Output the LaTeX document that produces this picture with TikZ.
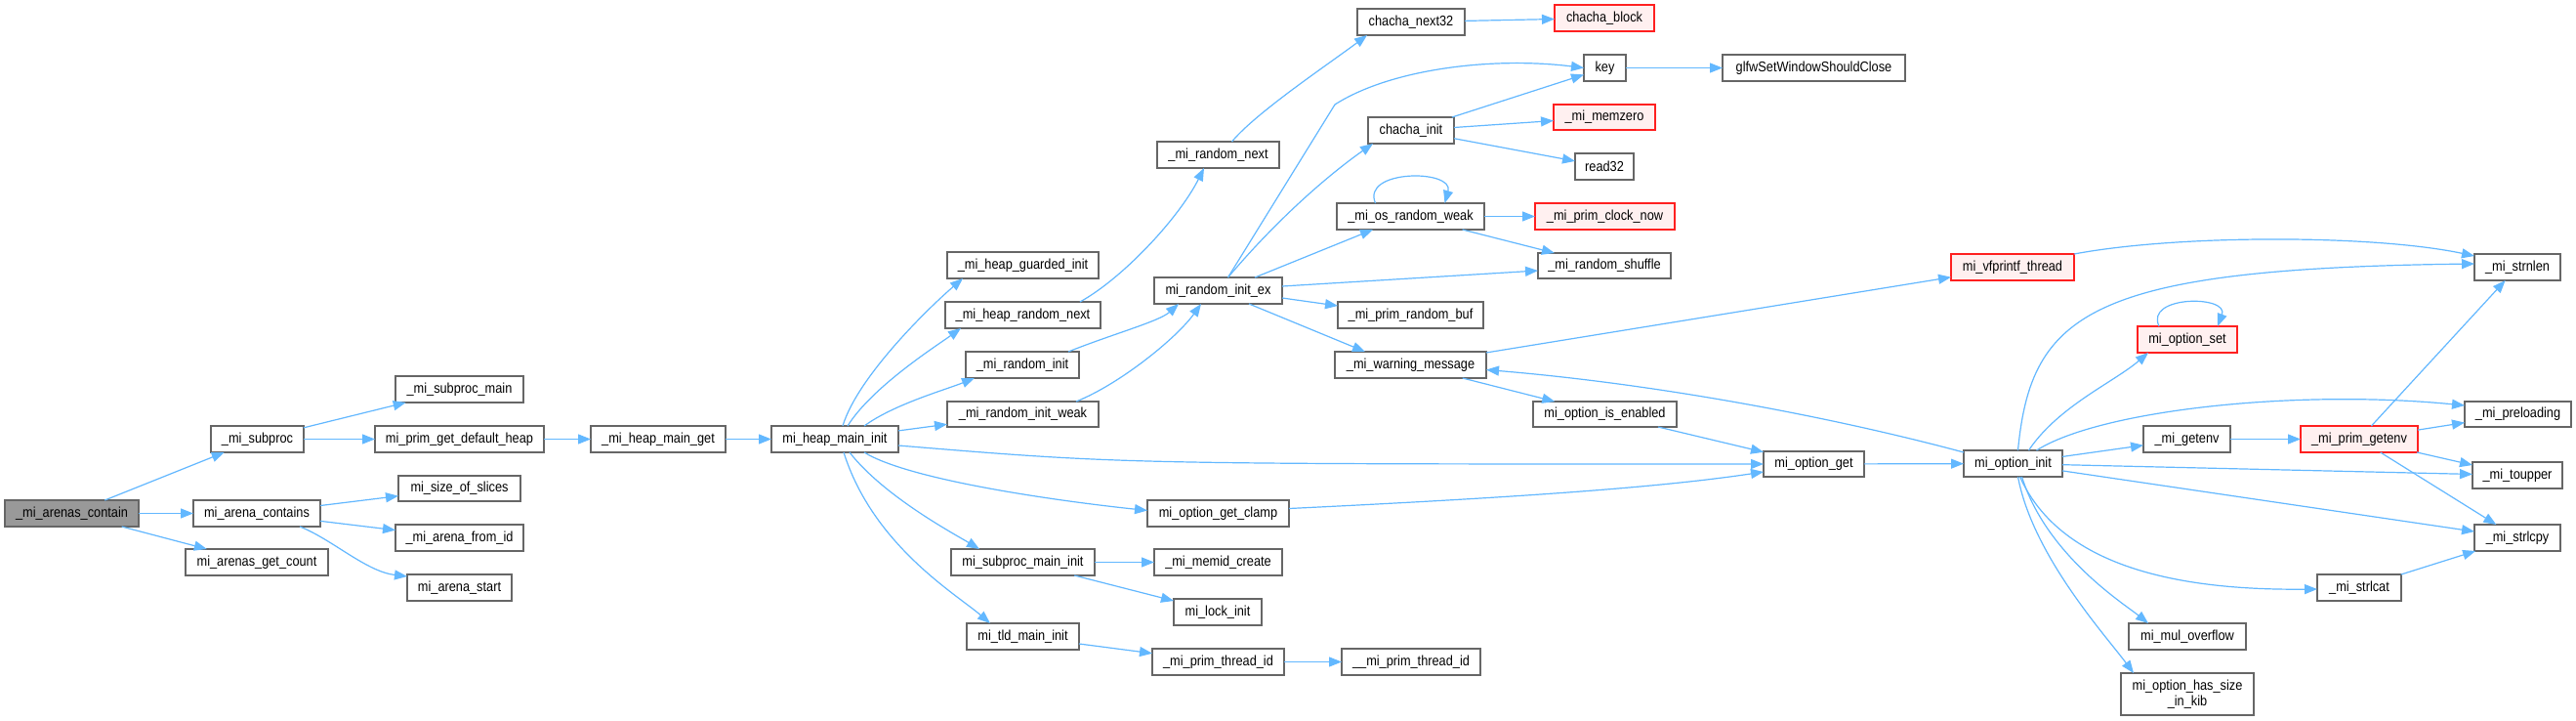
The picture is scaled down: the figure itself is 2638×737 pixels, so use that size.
\documentclass[tikz,border=0pt]{standalone}
\usepackage{fontspec}
\setmainfont{Liberation Sans}[FakeStretch=0.88]
\usetikzlibrary{arrows.meta}
\definecolor{edgec}{HTML}{63B8FF}
\definecolor{bordc}{HTML}{666666}
\definecolor{rootf}{HTML}{999999}
\definecolor{redf}{HTML}{FFF0F0}
\definecolor{redb}{HTML}{FF2020}
\tikzset{
 nbox/.style={draw=bordc, fill=white, line width=1.3pt, inner sep=0pt, outer sep=0pt, align=center, font=\fontsize{14.5}{16.5}\selectfont},
 rootbox/.style={fill=rootf},
 redbox/.style={draw=redb, fill=redf},
 conn/.style={draw=edgec, line width=1.2pt, -{Triangle[length=13pt,width=10pt]}},
}
\newcommand\nd[7][]{\node[nbox,#1,minimum width={(#5)-(#3)},minimum height={(#6)-(#4)}] (#2) at ({((#3)+(#5))/2},{((#4)+(#6))/2}) {#7};}
\begin{document}
\begin{tikzpicture}[x=1pt,y=-1pt]
\fill[white] (0,0) rectangle (2638,737);
\useasboundingbox (0,0) rectangle (2638,737);
\nd[rootbox]{contain}{5}{512}{142}{539}{\_mi\_arenas\_contain}
\nd{subproc}{216}{436}{311}{463}{\_mi\_subproc}
\nd{arenacontains}{198}{512}{328}{539}{mi\_arena\_contains}
\nd{getcount}{190}{562}{336}{589}{mi\_arenas\_get\_count}
\nd{subprocmain}{405}{385}{536}{412}{\_mi\_subproc\_main}
\nd{defaultheap}{384}{436}{557}{463}{mi\_prim\_get\_default\_heap}
\nd{sizeofslices}{408}{487}{533}{513}{mi\_size\_of\_slices}
\nd{arenafromid}{405}{537}{536}{564}{\_mi\_arena\_from\_id}
\nd{arenastart}{417}{588}{524}{615}{mi\_arena\_start}
\nd{heapmainget}{605}{436}{743}{463}{\_mi\_heap\_main\_get}
\nd{heapmaininit}{790}{436}{920}{463}{mi\_heap\_main\_init}
\nd{guardedinit}{970}{258}{1125}{285}{\_mi\_heap\_guarded\_init}
\nd{heaprandomnext}{968}{309}{1127}{336}{\_mi\_heap\_random\_next}
\nd{randominit}{989}{360}{1105}{387}{\_mi\_random\_init}
\nd{randominitweak}{970}{411}{1125}{437}{\_mi\_random\_init\_weak}
\nd{subprocmaininit}{974}{562}{1121}{589}{mi\_subproc\_main\_init}
\nd{tldmaininit}{990}{638}{1105}{665}{mi\_tld\_main\_init}
\nd{randomnext}{1185}{145}{1310}{172}{\_mi\_random\_next}
\nd{randominitex}{1182}{284}{1313}{311}{mi\_random\_init\_ex}
\nd{getclamp}{1175}{512}{1320}{539}{mi\_option\_get\_clamp}
\nd{memidcreate}{1182}{562}{1313}{589}{\_mi\_memid\_create}
\nd{lockinit}{1202}{613}{1292}{640}{mi\_lock\_init}
\nd{primthreadid}{1180}{664}{1315}{691}{\_mi\_prim\_thread\_id}
\nd{chachanext}{1390}{9}{1500}{36}{chacha\_next32}
\nd{chachainit}{1401}{120}{1489}{147}{chacha\_init}
\nd{osrandomweak}{1369}{208}{1520}{235}{\_mi\_os\_random\_weak}
\nd{primrandombuf}{1370}{309}{1519}{336}{\_mi\_prim\_random\_buf}
\nd{warning}{1367}{360}{1522}{387}{\_mi\_warning\_message}
\nd{primthreadidb}{1374}{664}{1516}{691}{\_\_mi\_prim\_thread\_id}
\nd[redbox]{chachablock}{1592}{5}{1694}{32}{chacha\_block}
\nd{key}{1622}{56}{1665}{83}{key}
\nd[redbox]{memzero}{1591}{107}{1695}{133}{\_mi\_memzero}
\nd{readtt}{1613}{157}{1673}{184}{read32}
\nd[redbox]{clocknow}{1572}{208}{1715}{235}{\_mi\_prim\_clock\_now}
\nd{randomshuffle}{1575}{259}{1711}{285}{\_mi\_random\_shuffle}
\nd{isenabled}{1570}{411}{1717}{437}{mi\_option\_is\_enabled}
\nd{glfw}{1764}{56}{1951}{83}{glfwSetWindowShouldClose}
\nd{optionget}{1806}{462}{1909}{488}{mi\_option\_get}
\nd[redbox]{vfprintf}{1998}{260}{2124}{287}{mi\_vfprintf\_thread}
\nd{optioninit}{2011}{461}{2112}{488}{mi\_option\_init}
\nd[redbox]{optionset}{2189}{334}{2291}{361}{mi\_option\_set}
\nd{getenv}{2195}{436}{2284}{463}{\_mi\_getenv}
\nd{muloverflow}{2180}{638}{2300}{665}{mi\_mul\_overflow}
\nd{hassize}{2172}{689}{2308}{732}{mi\_option\_has\_size\\\_in\_kib}
\nd[redbox]{primgetenv}{2356}{436}{2476}{463}{\_mi\_prim\_getenv}
\nd{strlcat}{2373}{588}{2459}{615}{\_mi\_strlcat}
\nd{strnlen}{2534}{260}{2622}{287}{\_mi\_strnlen}
\nd{preloading}{2524}{411}{2633}{437}{\_mi\_preloading}
\nd{toupper}{2532}{473}{2624}{500}{\_mi\_toupper}
\nd{strlcpy}{2534}{537}{2622}{564}{\_mi\_strlcpy}
\coordinate (kbend) at (1367,107);
% edges
\draw[conn] (contain) -- (subproc);
\draw[conn] (contain) -- (arenacontains);
\draw[conn] (contain) -- (getcount);
\draw[conn] (subproc) -- (subprocmain);
\draw[conn] (subproc) -- (defaultheap);
\draw[conn] (arenacontains) -- (sizeofslices);
\draw[conn] (arenacontains) -- (arenafromid);
\draw[conn] ([xshift=-21pt]arenacontains.south east) .. controls +(33,13) and +(-42,-5) .. ([yshift=-2pt]arenastart.north west);
\draw[conn] (defaultheap) -- (heapmainget);
\draw[conn] (heapmainget) -- (heapmaininit);
\draw[conn] ([xshift=8pt]heapmaininit.north) .. controls +(15,-50) and +(-35,30) .. ([xshift=16pt]guardedinit.south west);
\draw[conn] ([xshift=13pt]heapmaininit.north) .. controls +(25,-40) and +(-25,18) .. ([xshift=16pt]heaprandomnext.south west);
\draw[conn] ([xshift=30pt]heapmaininit.north) .. controls +(30,-22) and +(-30,12) .. ([xshift=9pt]randominit.south west);
\draw[conn] (heapmaininit) -- (randominitweak);
\draw[conn] ([yshift=-6.5pt]heapmaininit.east) .. controls (1150,475) .. (optionget.west);
\draw[conn] ([xshift=30pt]heapmaininit.south) .. controls +(45,28) and +(-95,-10) .. ([yshift=3pt]getclamp.west);
\draw[conn] ([xshift=15pt]heapmaininit.south) .. controls +(35,45) and +(-25,-15) .. ([xshift=29pt]subprocmaininit.north west);
\draw[conn] ([xshift=9pt]heapmaininit.south) .. controls +(30,95) and +(-35,-30) .. ([xshift=24pt]tldmaininit.north west);
\draw[conn] ([xshift=-21pt]heaprandomnext.north east) .. controls +(45,-25) and +(-25,50) .. ([xshift=48pt]randomnext.south west);
\draw[conn] ([xshift=-11pt]randominit.north east) .. controls +(45,-18) and +(-20,18) .. ([xshift=25pt]randominitex.south west);
\draw[conn] ([xshift=-23pt]randominitweak.north east) .. controls +(45,-18) and +(-25,35) .. ([xshift=48pt]randominitex.south west);
\draw[conn] ([xshift=14pt]randomnext.north) .. controls +(25,-30) and +(-40,30) .. ([xshift=10pt]chachanext.south west);
\draw[conn] ([xshift=10pt]randominitex.north) -- (kbend) .. controls (1425,70) and (1530,58) .. (key.west);
\draw[conn] ([xshift=10pt]randominitex.north) .. controls +(55,-65) and +(-40,28) .. ([xshift=5pt]chachainit.south west);
\draw[conn] ([xshift=-28pt]randominitex.north east) -- ([xshift=37pt]osrandomweak.south west);
\draw[conn] ([yshift=4.5pt]randominitex.east) -- ([yshift=-5pt]randomshuffle.west);
\draw[conn] ([yshift=-7.5pt]randominitex.east) -- ([yshift=9.5pt]primrandombuf.west);
\draw[conn] ([xshift=-34pt]randominitex.south east) -- ([xshift=31pt]warning.north west);
\draw[conn] (chachanext) -- (chachablock);
\draw[conn] (chachainit) -- (key);
\draw[conn] (chachainit) -- (memzero);
\draw[conn] (chachainit) -- (readtt);
\draw[conn] (key) -- (glfw);
\draw[conn] ([xshift=-36pt]osrandomweak.north) .. controls +(-15,-35) and +(10,-35) .. ([xshift=35pt]osrandomweak.north);
\draw[conn] (osrandomweak) -- (clocknow);
\draw[conn] (osrandomweak) -- (randomshuffle);
\draw[conn] (warning) -- (vfprintf);
\draw[conn] (warning) -- (isenabled);
\draw[conn] (isenabled) -- (optionget);
\draw[conn] ([yshift=5pt]getclamp.east) .. controls +(250,-12) and +(-100,15) .. ([yshift=-8pt]optionget.west);
\draw[conn] (optionget) -- (optioninit);
\draw[conn] ([yshift=-2pt]optioninit.north west) .. controls +(-130,-35) and +(180,15) .. ([yshift=-5pt]warning.east);
\draw[conn] ([xshift=5pt]optioninit.north) .. controls +(13.5,-141) and +(-394,5) .. ([yshift=3.5pt]strnlen.west);
\draw[conn] (vfprintf.north east) .. controls +(106,-20) and +(-104,-22) .. ([yshift=-2pt]strnlen.north west);
\draw[conn] ([xshift=16pt]optioninit.north) .. controls +(30,-45) and +(-35,30) .. ([xshift=11pt]optionset.south west);
\draw[conn] ([xshift=-29pt]optionset.north) .. controls +(-15,-32) and +(12,-32) .. ([xshift=31pt]optionset.north);
\draw[conn] ([xshift=24pt]optioninit.north) .. controls +(64.5,-41) and +(-174,-17) .. ([yshift=9pt]preloading.west);
\draw[conn] (optioninit) -- (getenv);
\draw[conn] (optioninit) -- (toupper);
\draw[conn] (optioninit) -- (strlcpy);
\draw[conn] ([xshift=7pt]optioninit.south) .. controls +(41.5,92) and +(-143,1.5) .. ([yshift=-1.5pt]strlcat.west);
\draw[conn] ([xshift=9pt]optioninit.south) .. controls +(25,80) and +(-25,-20) .. ([xshift=20pt]muloverflow.north west);
\draw[conn] ([xshift=5pt]optioninit.south) .. controls +(15,80) and +(-30,-40) .. ([xshift=13pt]hassize.north west);
\draw[conn] (getenv) -- (primgetenv);
\draw[conn] (primgetenv) -- (strnlen);
\draw[conn] (primgetenv) -- (preloading);
\draw[conn] (primgetenv) -- (toupper);
\draw[conn] (primgetenv) -- (strlcpy);
\draw[conn] (strlcat) -- (strlcpy);
\draw[conn] (subprocmaininit) -- (memidcreate);
\draw[conn] (subprocmaininit) -- (lockinit);
\draw[conn] (tldmaininit) -- (primthreadid);
\draw[conn] (primthreadid) -- (primthreadidb);
\end{tikzpicture}
\end{document}
